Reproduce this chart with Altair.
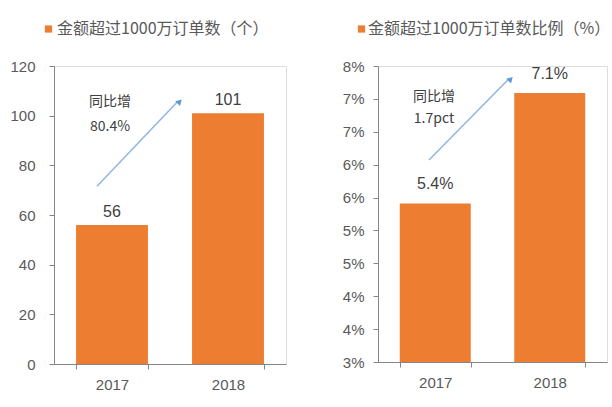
import altair as alt
import pandas as pd

years = ["2017", "2018"]
orders = [56, 101]
order_labels = ["56", "101"]
ratio = [5.41, 7.09]          # percent
ratio_labels = ["5.4%", "7.1%"]

left_title = "金额超过1000万订单数（个）"
right_title = "金额超过1000万订单数比例（%）"
left_note = ["同比增", "80.4%"]
right_note = ["同比增", "1.7pct"]

ORANGE = "#ED7D31"
GRAY = "#595959"
AXIS = "#868686"
BLUE_LINE = "#8DB7E2"
BLUE_HEAD = "#5B9BD5"
CJK = "Noto Sans CJK SC"
LAT = "Liberation Sans"


def panel(vals, labels, title, note, width, height, domain, ticks, label_expr,
          label_dy, lab_pad, sq_x, txt_x, arrow, note_y):
    df = pd.DataFrame({"year": years, "v": vals, "lab": labels})
    base = alt.Chart(df)
    x = alt.X("year:N", title=None,
              scale=alt.Scale(paddingInner=0.38, paddingOuter=0.19),
              axis=alt.Axis(labelAngle=0, tickBand="extent", labelFont=LAT,
                            labelFontSize=15, labelColor=GRAY, labelPadding=8,
                            domainColor=AXIS, tickColor=AXIS, tickSize=5,
                            zindex=1))
    y = alt.Y("v:Q", title=None,
              scale=alt.Scale(domain=domain, nice=False, zero=False),
              axis=alt.Axis(values=ticks, tickCount=len(ticks) + 2,
                            grid=False, labelExpr=label_expr,
                            labelOverlap=False, labelFont=LAT,
                            labelFontSize=15, labelColor=GRAY,
                            labelPadding=lab_pad, domainColor=AXIS,
                            tickColor=AXIS, tickSize=5))
    bars = base.mark_bar(color=ORANGE).encode(x=x, y=y, y2=alt.datum(domain[0]))
    text = base.mark_text(font=LAT, fontSize=16, color="#404040",
                          baseline="middle", dy=label_dy).encode(
        x="year:N", y="v:Q", text="lab:N")

    one = alt.Data(values=[{"a": 1}])
    sq = alt.Chart(one).mark_square(color=ORANGE, size=52, opacity=1).encode(
        x=alt.value(sq_x), y=alt.value(-37))
    tt = alt.Chart(one).mark_text(font=CJK, fontSize=16, color=GRAY,
                                  align="left", baseline="middle").encode(
        x=alt.value(txt_x), y=alt.value(-37), text=alt.value(title))

    ax0, ay0, ax1, ay1 = arrow
    adf = pd.DataFrame({"y0": [ay0], "y1": [ay1]})
    line = alt.Chart(adf).mark_rule(color=BLUE_LINE, strokeWidth=1.5).encode(
        x=alt.value(ax0), x2=alt.value(ax1 - 3), y="y0:Q", y2="y1:Q")
    head = alt.Chart(adf).mark_point(shape="triangle", angle=45, filled=True,
                                     color=BLUE_HEAD, size=45, opacity=1).encode(
        x=alt.value(ax1 - 1), y="y1:Q")

    ndf = pd.DataFrame({"t": note, "ny": note_y})
    notes = alt.Chart(ndf).mark_text(font=CJK, fontSize=14, color="#404040",
                                     align="center", baseline="middle").encode(
        x=alt.value(56), y="ny:Q", text="t:N")

    return alt.layer(bars, text, line, head, notes, sq, tt).properties(
        width=width, height=height)


left = panel(orders, order_labels, left_title, left_note, 232, 298,
             [0, 120], [0, 20, 40, 60, 80, 100, 120], "datum.value",
             -13, 14, -5.5, 3, (43, 71.6, 126, 105.4), [105.4, 95.6])
right = panel(ratio, ratio_labels, right_title, right_note, 229, 296,
              [3, 7.5], [3, 3.5, 4, 4.5, 5, 5.5, 6, 6.5, 7, 7.5],
              "round(datum.value) + '%'",
              -19, 9, -16.5, -10, (51, 6.07, 133, 7.29), [7.03, 6.69])

chart = alt.hconcat(left, right, spacing=54).properties(
    padding={"left": 9, "top": 20, "right": 0, "bottom": 0}
).configure_view(stroke=None).configure(background="white")

chart.save("out.html", embed_options={"renderer": "svg", "actions": False})
